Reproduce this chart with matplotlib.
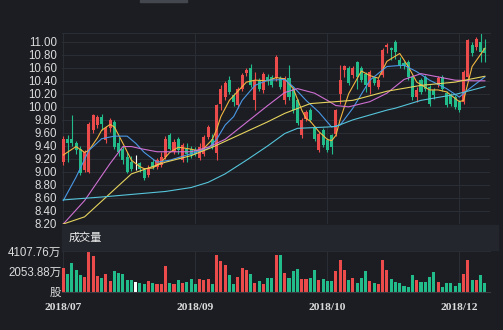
import numpy as np
import matplotlib.pyplot as plt
from matplotlib.patches import Rectangle

# 日K：开盘 / 收盘 / 最低 / 最高
opens = [9.16, 9.50, 9.51, 9.44, 9.36, 9.03, 9.00, 9.64, 9.72, 9.85,
         9.49, 9.67, 9.77, 9.44, 9.36, 9.23, 9.15, 9.10, 9.13, 9.03,
         8.95, 9.15, 9.08, 9.10, 9.23, 9.56, 9.31, 9.51, 9.18, 9.36,
         9.36, 9.33, 9.21, 9.28, 9.54, 9.51, 9.29, 10.05, 10.15, 10.41,
         10.18, 10.03, 10.28, 10.52, 10.59, 10.10, 10.41, 10.26, 10.46, 10.46,
         10.44, 10.44, 10.10, 10.44, 10.28, 10.10, 9.56, 9.82, 9.95, 9.67,
         9.33, 9.64, 9.49, 9.56, 9.59, 10.20, 10.57, 10.59, 10.49, 10.69,
         10.59, 10.51, 10.31, 10.44, 10.31, 10.49, 10.92, 10.90, 11.00, 10.72,
         10.67, 10.69, 10.46, 10.15, 10.41, 10.46, 10.31, 10.26, 10.33, 10.46,
         10.21, 10.18, 10.15, 10.08, 10.08, 10.46, 10.95, 10.92, 11.00, 10.90]
closes = [9.50, 9.45, 9.44, 9.33, 8.98, 9.31, 9.74, 9.87, 9.85, 9.74,
          9.67, 9.80, 9.38, 9.31, 9.18, 9.00, 9.05, 9.10, 9.05, 8.90,
          9.05, 9.08, 9.18, 9.23, 9.51, 9.36, 9.46, 9.33, 9.41, 9.28,
          9.26, 9.28, 9.39, 9.54, 9.69, 9.39, 10.03, 10.28, 10.36, 10.23,
          10.08, 10.28, 10.49, 10.57, 10.33, 10.41, 10.28, 10.51, 10.39, 10.33,
          10.77, 10.31, 10.44, 10.15, 9.95, 9.75, 9.80, 9.92, 9.80, 9.51,
          9.59, 9.41, 9.33, 9.39, 9.95, 10.42, 10.62, 10.36, 10.59, 10.46,
          10.41, 10.34, 10.54, 10.36, 10.41, 10.87, 10.95, 10.87, 10.85, 10.64,
          10.62, 10.46, 10.15, 10.26, 10.23, 10.28, 10.05, 10.18, 10.44, 10.28,
          10.03, 10.05, 10.00, 9.95, 10.54, 11.03, 10.82, 11.05, 10.85, 10.82]
lows = [9.10, 9.15, 9.40, 9.28, 8.95, 9.00, 8.98, 9.60, 9.68, 9.64,
        9.45, 9.62, 9.35, 9.25, 9.12, 8.98, 9.02, 9.03, 9.00, 8.88,
        8.92, 9.05, 9.05, 9.08, 9.20, 9.33, 9.28, 9.28, 9.15, 9.15,
        9.22, 9.24, 9.18, 9.25, 9.51, 9.36, 9.19, 9.95, 10.10, 10.20,
        10.02, 9.98, 10.25, 10.48, 10.30, 9.95, 10.25, 10.22, 10.33, 10.30,
        10.40, 10.28, 10.05, 10.10, 9.90, 9.72, 9.52, 9.78, 9.76, 9.47,
        9.30, 9.38, 9.30, 9.28, 9.55, 10.05, 10.46, 10.33, 10.45, 10.28,
        10.38, 10.23, 10.20, 10.33, 10.28, 10.46, 10.82, 10.72, 10.74, 10.60,
        10.58, 10.42, 10.10, 10.08, 10.20, 10.25, 10.02, 10.12, 10.30, 10.25,
        10.00, 10.02, 9.97, 9.92, 10.05, 10.43, 10.78, 10.88, 10.69, 10.69]
highs = [9.55, 9.57, 9.87, 9.47, 9.40, 9.33, 9.76, 9.89, 9.88, 9.89,
         9.70, 9.83, 9.80, 9.54, 9.40, 9.30, 9.25, 9.26, 9.16, 9.06,
         9.10, 9.20, 9.22, 9.30, 9.55, 9.60, 9.50, 9.53, 9.44, 9.44,
         9.40, 9.38, 9.44, 9.56, 9.72, 9.59, 10.05, 10.33, 10.40, 10.48,
         10.22, 10.30, 10.52, 10.60, 10.66, 10.54, 10.44, 10.53, 10.50, 10.49,
         10.79, 10.48, 10.47, 10.64, 10.30, 10.12, 9.83, 9.95, 9.98, 9.70,
         9.62, 9.67, 9.52, 9.58, 9.97, 10.64, 10.64, 10.62, 10.62, 10.71,
         10.62, 10.54, 10.57, 10.47, 10.44, 10.90, 10.98, 10.92, 11.03, 10.76,
         10.70, 10.72, 10.49, 10.31, 10.44, 10.49, 10.34, 10.29, 10.47, 10.49,
         10.24, 10.21, 10.18, 10.10, 10.57, 11.05, 11.00, 11.08, 11.13, 11.05]

# 成交量（万股）
volumes = [2350, 1760, 2840, 2160, 1670, 1470, 4107.76, 3630, 1570, 1370,
           1760, 1080, 2060, 1860, 1760, 1180, 1180, 980, 880, 780,
           1080, 880, 780, 780, 2550, 880, 780, 1180, 880, 980,
           1270, 780, 1270, 1180, 1270, 780, 3720, 3140, 2650, 1670,
           780, 1470, 2350, 2160, 1760, 880, 1080, 780, 1370, 1370,
           3720, 3720, 1860, 1370, 2060, 2250, 1270, 1270, 1370, 2160,
           1180, 1270, 1080, 1080, 2060, 3230, 2160, 1180, 1370, 880,
           1370, 2060, 1080, 880, 780, 3230, 2160, 1270, 980, 880,
           590, 490, 1670, 1180, 980, 980, 1470, 1960, 980, 490,
           880, 880, 590, 880, 1760, 3230, 1180, 1180, 1670, 880]

# 均线（交易日序号, 数值）
ma5_days = [0, 3, 5, 6, 8, 9, 11, 12, 14, 16, 18, 19, 21, 23, 25, 27, 30, 32, 33, 34,
            35, 36, 37, 39, 41, 43, 45, 48, 50, 52, 54, 56, 57, 58, 60, 62, 63, 64, 65, 67,
            70, 72, 74, 76, 79, 81, 83, 86, 88, 90, 93, 94, 96, 99]
ma5 = [9.26, 9.39, 9.30, 9.33, 9.52, 9.64, 9.73, 9.69, 9.44, 9.18, 9.08, 9.05, 9.06, 9.15,
       9.30, 9.38, 9.35, 9.32, 9.36, 9.43, 9.50, 9.65, 9.85, 10.10, 10.24, 10.38, 10.41,
       10.40, 10.45, 10.43, 10.28, 9.95, 9.82, 9.78, 9.62, 9.50, 9.48, 9.56, 9.80, 10.20,
       10.55, 10.48, 10.44, 10.70, 10.82, 10.62, 10.38, 10.26, 10.26, 10.23, 10.08, 10.10,
       10.62, 10.90]
ma10_days = [0, 3, 6, 9, 12, 15, 17, 19, 22, 25, 30, 34, 36, 38, 40, 42, 45, 48, 52, 54,
             57, 60, 63, 65, 68, 72, 76, 80, 83, 86, 90, 93, 95, 99]
ma10 = [8.56, 8.92, 9.33, 9.51, 9.55, 9.55, 9.44, 9.30, 9.15, 9.18, 9.28, 9.36, 9.50,
        9.72, 9.85, 10.10, 10.33, 10.41, 10.42, 10.31, 10.10, 9.92, 9.69, 9.72, 9.98,
        10.41, 10.62, 10.64, 10.54, 10.41, 10.28, 10.15, 10.26, 10.46]
ma20_days = [0, 5, 11, 14, 16, 18, 22, 30, 34, 38, 43, 48, 52, 55, 59, 62, 64, 67, 72,
             76, 80, 84, 88, 92, 96, 99]
ma20 = [8.20, 8.56, 9.13, 9.39, 9.39, 9.36, 9.31, 9.31, 9.38, 9.50, 9.76, 10.02, 10.22,
        10.28, 10.21, 10.10, 10.02, 10.00, 10.08, 10.21, 10.42, 10.51, 10.46, 10.41,
        10.40, 10.40]
ma30_days = [0, 5, 11, 16, 20, 24, 30, 35, 42, 48, 52, 54, 58, 62, 68, 76, 84, 92, 99]
ma30 = [8.20, 8.31, 8.67, 8.97, 9.06, 9.15, 9.25, 9.38, 9.59, 9.77, 9.90, 9.95, 10.05,
        10.07, 10.10, 10.24, 10.33, 10.38, 10.47]
ma60_days = [0, 10, 24, 30, 34, 38, 43, 48, 52, 55, 62, 64, 68, 76, 78, 84, 92, 99]
ma60 = [8.57, 8.62, 8.70, 8.76, 8.84, 8.97, 9.18, 9.40, 9.59, 9.67, 9.69, 9.70, 9.80,
        9.95, 9.98, 10.10, 10.19, 10.31]

month_ticks = [0, 31, 62, 93]
month_labels = ['2018/07', '2018/09', '2018/10', '2018/12']
vol_ticks = [0, 2053.88, 4107.76]
vol_labels = ['股', '2053.88万', '4107.76万']

BG = '#1b1d22'
GRID = '#2a2d34'
RED = '#ec4b4b'
GREEN = '#22bb8a'
FLAT = '#ffffff'
TXT = '#dcdcdc'
sans = ['Liberation Sans', 'Noto Sans CJK SC']

W, H = 503, 330
fig = plt.figure(figsize=(W / 100, H / 100), dpi=100)
fig.patch.set_facecolor(BG)


def box(l, t, r, b):
    return [l / W, 1 - b / H, (r - l) / W, (b - t) / H]


ax = fig.add_axes(box(61.8, 33.3, 490, 224))
axv = fig.add_axes(box(61.8, 251, 490, 291.5))

x = np.arange(len(opens))
o = np.array(opens)
c = np.array(closes)
colors = np.where(c > o, RED, np.where(c < o, GREEN, FLAT))

# K线
ax.vlines(x, lows, highs, colors=colors, lw=0.8, zorder=2)
ax.bar(x, np.maximum(np.abs(c - o), 0.012), bottom=np.minimum(o, c), width=0.72,
       color=colors, linewidth=0, zorder=2)

# 均线
ax.plot(ma5_days, ma5, color='#f2b642', lw=0.8, zorder=3)
ax.plot(ma10_days, ma10, color='#4a98e6', lw=0.8, zorder=3)
ax.plot(ma20_days, ma20, color='#cf6fd2', lw=0.8, zorder=3)
ax.plot(ma30_days, ma30, color='#e6d35e', lw=0.8, zorder=3)
ax.plot(ma60_days, ma60, color='#56c4da', lw=0.8, zorder=3)

ax.set_xlim(-0.35, 100.2)
ax.set_ylim(8.2, 11.13)
ax.set_yticks(np.arange(8.2, 11.01, 0.2))
ax.set_yticklabels(['%.2f' % v for v in np.arange(8.2, 11.01, 0.2)], family=sans, fontsize=8.3)
ax.set_xticks(month_ticks)
ax.set_xticklabels([])

# 成交量
axv.bar(x, volumes, width=0.72, color=colors, linewidth=0)
axv.set_xlim(-0.35, 100.2)
axv.set_ylim(0, 4107.76)
axv.set_yticks(vol_ticks)
axv.set_yticklabels(vol_labels, family=sans, fontsize=8.3)
axv.set_xticks(month_ticks)
axv.set_xticklabels(month_labels, family='Liberation Serif', fontsize=8.2, fontweight='bold')

for a in (ax, axv):
    a.set_facecolor(BG)
    a.grid(True, color=GRID, lw=0.8, zorder=0)
    a.set_axisbelow(True)
    for s in ('left', 'right'):
        a.spines[s].set_visible(False)
    a.spines['top'].set_color(GRID)
    a.spines['bottom'].set_color(GRID)
    a.tick_params(length=0, colors=TXT)
ax.spines['bottom'].set_visible(False)
ax.tick_params(axis='y', pad=3.2)
axv.tick_params(axis='y', pad=0.5)
axv.tick_params(axis='x', pad=8.5)
axv.grid(False, axis='y')
axv.spines['bottom'].set_color('#3a3d44')

# 成交量标题栏
fig.patches.append(Rectangle((62 / W, 1 - 250 / H), (498 - 62) / W, 25 / H,
                             transform=fig.transFigure, color='#23262c', zorder=0))
fig.text(69 / W, 1 - 238 / H, '成交量', family=['Noto Sans CJK SC'], fontsize=8,
         color='#f0f0f0', va='center', ha='left')

# 顶部滑块残影
fig.patches.append(Rectangle((140 / W, 1 - 1.5 / H), 47 / W, 1.5 / H,
                             transform=fig.transFigure, color='#44474e', zorder=0))

fig.savefig('out.png', dpi=100, facecolor=BG)
